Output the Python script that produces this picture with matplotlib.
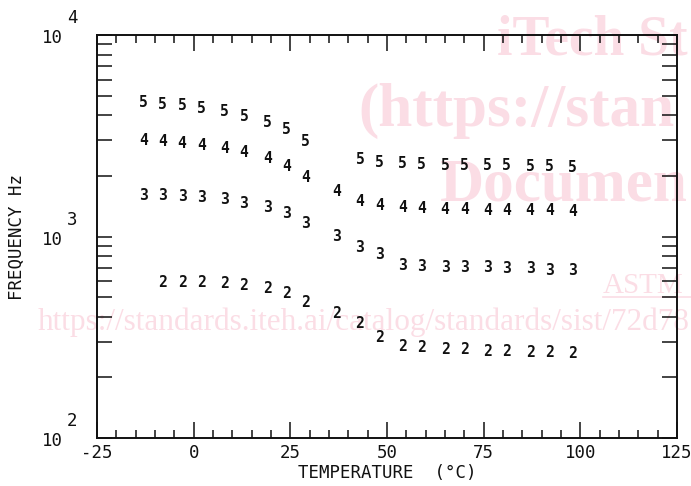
import matplotlib
matplotlib.use("Agg")
import matplotlib.pyplot as plt
from matplotlib.ticker import LogLocator, NullFormatter, FixedLocator
from matplotlib.lines import Line2D

# ---- data ----
s5_t = [-13, -8, -3, 2, 8, 13, 19, 24, 29, 43, 48, 54, 59, 65, 70, 76, 81, 87, 92, 98]
s5_f = [4620, 4540, 4490, 4320, 4150, 3940, 3700, 3380, 2960,
        2420, 2330, 2290, 2270, 2260, 2250, 2250, 2240, 2230, 2220, 2210]

s4_t = [-13, -8, -3, 2, 8, 13, 19, 24, 29, 37, 43, 48, 54, 59, 65, 70, 76, 81, 87, 92, 98]
s4_f = [2980, 2950, 2900, 2840, 2730, 2610, 2440, 2220, 1970,
        1680, 1500, 1430, 1390, 1370, 1360, 1360, 1350, 1350, 1340, 1340, 1330]

s3_t = [-13, -8, -3, 2, 8, 13, 19, 24, 29, 37, 43, 48, 54, 59, 65, 70, 76, 81, 87, 92, 98]
s3_f = [1600, 1590, 1580, 1560, 1520, 1460, 1390, 1300, 1160,
        1000, 880, 810, 715, 710, 705, 700, 700, 695, 690, 680, 675]

s2_t = [-8, -3, 2, 8, 13, 19, 24, 29, 37, 43, 48, 54, 59, 65, 70, 76, 81, 87, 92, 98]
s2_f = [594, 594, 589, 582, 573, 551, 520, 472,
        415, 372, 314, 284, 280, 274, 274, 269, 268, 266, 265, 262]

series_labels = ["5", "4", "3", "2"]
series_t = [s5_t, s4_t, s3_t, s2_t]
series_f = [s5_f, s4_f, s3_f, s2_f]

x_major = [-25, 0, 25, 50, 75, 100, 125]
x_labels = ["-25", "0", "25", "50", "75", "100", "125"]
y_exponents = [2, 3, 4]

MONO = "DejaVu Sans Mono"
PX = 0.72  # points per pixel at 100 dpi
INK = "#111111"

W, H = 691, 486
fig = plt.figure(figsize=(W / 100, H / 100), dpi=100)
fig.patch.set_facecolor("white")

# watermark (behind everything)
wm = "#fbdde5"
fig.text(497 / W, 1 - 54 / H, "iTech St", family="Liberation Serif", weight="bold",
         fontsize=40, color=wm, va="baseline", ha="left", zorder=-5)
fig.text(358 / W, 1 - 126 / H, "(https://stan", family="Liberation Serif", weight="bold",
         fontsize=44, color=wm, va="baseline", ha="left", zorder=-5)
fig.text(440 / W, 1 - 200 / H, "Documen", family="Liberation Serif", weight="bold",
         fontsize=44, color=wm, va="baseline", ha="left", zorder=-5)
fig.text(603 / W, 1 - 293 / H, "ASTM", family="Liberation Serif",
         fontsize=21, color=wm, va="baseline", ha="left", zorder=-5)
fig.add_artist(Line2D([603 / W, 1.0], [1 - 297 / H, 1 - 297 / H], color=wm, lw=1.2, zorder=-5))
fig.text(38 / W, 1 - 330 / H, "https://standards.iteh.ai/catalog/standards/sist/72d78",
         family="Liberation Serif", fontsize=22.5, color=wm, va="baseline", ha="left", zorder=-5)

ax = fig.add_axes([97 / W, 1 - 438 / H, 580 / W, 403 / H])
ax.set_facecolor("none")
ax.set_xlim(-25, 125)
ax.set_yscale("log")
ax.set_ylim(100, 10000)

for s in ax.spines.values():
    s.set_linewidth(1.4)
    s.set_color(INK)

ax.xaxis.set_major_locator(FixedLocator(x_major))
ax.xaxis.set_minor_locator(FixedLocator(list(range(-25, 126, 5))))
ax.set_xticklabels(x_labels, family=MONO, fontsize=12.5)
ax.tick_params(axis="x", which="major", direction="in", length=16 * PX, width=1.1,
               top=True, bottom=True, pad=4, colors=INK)
ax.tick_params(axis="x", which="minor", direction="in", length=8 * PX, width=1.1,
               top=True, bottom=True, colors=INK)

ax.yaxis.set_major_locator(LogLocator(base=10, numticks=10))
ax.yaxis.set_minor_locator(LogLocator(base=10, subs=[2, 3, 4, 5, 6, 7, 8, 9], numticks=20))
ax.yaxis.set_minor_formatter(NullFormatter())
ax.tick_params(axis="y", which="both", direction="in", length=15 * PX, width=1.1,
               left=True, right=True, labelleft=False, colors=INK)

# y tick labels: "10" with raised exponent
for e in y_exponents:
    ax.annotate("10", xy=(0, 10 ** e), xycoords=("axes fraction", "data"),
                xytext=(-34 * PX, -3 * PX), textcoords="offset points",
                ha="right", va="center", family=MONO, fontsize=12.5, color=INK)
    ax.annotate(str(e), xy=(0, 10 ** e), xycoords=("axes fraction", "data"),
                xytext=(-30 * PX, 17 * PX), textcoords="offset points",
                ha="left", va="center", family=MONO, fontsize=12.5, color=INK)

# data points drawn as digits
for lab, ts, fs in zip(series_labels, series_t, series_f):
    for t, f in zip(ts, fs):
        ax.text(t, f, lab, ha="center", va="center", family=MONO, weight="bold",
                fontsize=10.5, color=INK, zorder=5)

ax.set_xlabel("TEMPERATURE  (°C)", family=MONO, fontsize=12.5, color=INK)
ax.xaxis.set_label_coords(0.5, -26 / 403)
ax.xaxis.label.set_va("top")
ax.set_ylabel("FREQUENCY Hz", family=MONO, fontsize=12.5, color=INK)
ax.yaxis.set_label_coords(-80 / 580, 0.5)
ax.yaxis.label.set_va("center")

fig.savefig("out.png", dpi=100)
